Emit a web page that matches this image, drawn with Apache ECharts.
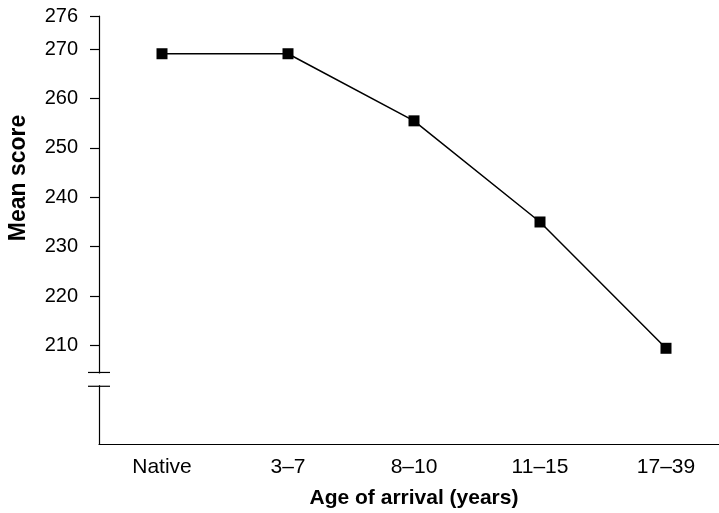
<!DOCTYPE html>
<html>
<head>
<meta charset="utf-8">
<script src="https://cdn.jsdelivr.net/npm/echarts@6/dist/echarts.min.js"></script>
<style>
	html, body { margin: 0; padding: 0; background: #fff; }
	#chart { width: 719px; height: 513px; }
</style>
</head>
<body>
<div id="chart"></div>
<script>
	var categories = ['Native', '3–7', '8–10', '11–15', '17–39'];
	var meanScores = [269.1, 269.1, 255.5, 235.0, 209.4];
	var yTickValues = [210, 220, 230, 240, 250, 260, 270, 276.75];
	var yTickLabels = ['210', '220', '230', '240', '250', '260', '270', '276'];
	var yMin = 190, yMax = 276.75;
	var breakValues = [204.5, 201.7];

	var font = "'Liberation Sans', Arial, Helvetica, sans-serif";
	var gridLeft = 99;

	var chart = echarts.init(document.getElementById('chart'));

	chart.setOption({
		animation: false,
		backgroundColor: '#fff',
		grid: { left: gridLeft, right: -10, top: 16, bottom: 69, containLabel: false, outerBoundsMode: 'none' },
		xAxis: {
			type: 'category',
			data: categories,
			boundaryGap: true,
			name: 'Age of arrival (years)',
			nameLocation: 'middle',
			nameGap: 44,
			nameTextStyle: { fontFamily: font, fontSize: 21, fontWeight: 'bold', color: '#000' },
			axisLine: { lineStyle: { color: '#000', width: 1.2 } },
			axisTick: { alignWithLabel: true, length: 9, lineStyle: { color: '#000', width: 1.2 } },
			axisLabel: { fontFamily: font, fontSize: 21, color: '#000', margin: 13 },
			splitLine: { show: false }
		},
		yAxis: {
			type: 'value',
			min: yMin,
			max: yMax,
			axisLine: { show: true, lineStyle: { color: '#000', width: 1.2 } },
			axisTick: { show: true, length: 9, customValues: yTickValues, lineStyle: { color: '#000', width: 1.2 } },
			axisLabel: {
				fontFamily: font, fontSize: 20, color: '#000', margin: 21,
				customValues: yTickValues,
				formatter: function(v){
					var i = yTickValues.indexOf(v);
					return i >= 0 ? yTickLabels[i] : '';
				}
			},
			splitLine: { show: false }
		},
		series: [{
			type: 'line',
			data: meanScores,
			symbol: 'rect',
			symbolSize: 11,
			itemStyle: { color: '#000' },
			lineStyle: { color: '#000', width: 1.5 },
			z: 3
		}]
	});

	// axis break marks, placed from the y scale
	var yb1 = chart.convertToPixel({ yAxisIndex: 0 }, breakValues[0]);
	var yb2 = chart.convertToPixel({ yAxisIndex: 0 }, breakValues[1]);
	chart.setOption({
		graphic: [
			{ type: 'rect', z: 100, shape: { x: gridLeft - 3, y: yb1 + 1, width: 6, height: yb2 - yb1 - 2 }, style: { fill: '#fff' } },
			{ type: 'line', z: 101, shape: { x1: gridLeft - 11, y1: yb1, x2: gridLeft + 11, y2: yb1 }, style: { stroke: '#000', lineWidth: 1.2 } },
			{ type: 'line', z: 101, shape: { x1: gridLeft - 11, y1: yb2, x2: gridLeft + 11, y2: yb2 }, style: { stroke: '#000', lineWidth: 1.2 } },
			{
				type: 'text', z: 101, x: 19, y: 178, rotation: Math.PI / 2,
				style: { text: 'Mean score', fontFamily: font, fontSize: 23, fontWeight: 'bold', fill: '#000', align: 'center', verticalAlign: 'middle' }
			}
		]
	});
</script>
</body>
</html>
